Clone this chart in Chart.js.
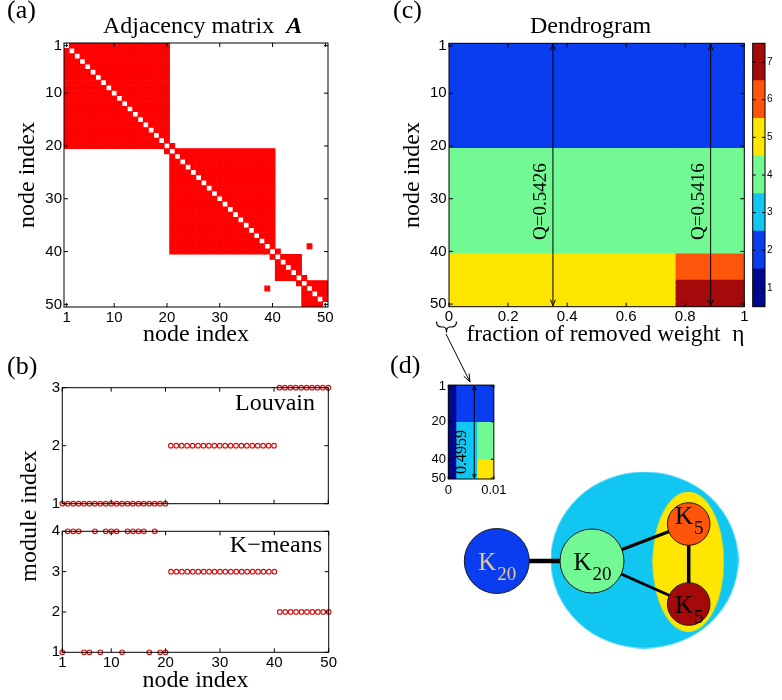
<!DOCTYPE html>
<html>
<head>
<meta charset="utf-8">
<title>Modules of a benchmark network</title>
<script src="https://cdn.jsdelivr.net/npm/chart.js@4.4.1/dist/chart.umd.min.js"></script>
<style>
  html, body { margin: 0; padding: 0; background: #fff; }
  #figure { position: relative; width: 782px; height: 700px; overflow: hidden; }
  #figure canvas { position: absolute; }
  .label { position: absolute; white-space: nowrap; line-height: 1; color: #000;
           font-family: "Liberation Serif", "Times New Roman", serif; }
  #overlay { position: absolute; left: 0; top: 0; pointer-events: none; }
</style>
</head>
<body>
<div id="figure">
  <canvas id="chartAdjacency" width="345" height="350" style="left:0;top:0"></canvas>
  <canvas id="chartLouvain" width="345" height="140" style="left:0;top:375px"></canvas>
  <canvas id="chartKmeans" width="345" height="180" style="left:0;top:520px"></canvas>
  <canvas id="chartDendrogram" width="380" height="350" style="left:380px;top:0"></canvas>
  <canvas id="chartColorbar" width="37" height="350" style="left:745px;top:0"></canvas>
  <canvas id="chartDendroZoom" width="110" height="125" style="left:400px;top:375px"></canvas>
  <canvas id="chartModuleGraph" width="342" height="220" style="left:440px;top:460px"></canvas>

  <div class="label" style="left:7px;top:-3px;font-size:26px">(a)</div>
  <div class="label" style="left:7px;top:353px;font-size:26px">(b)</div>
  <div class="label" style="left:393px;top:-3px;font-size:26px">(c)</div>
  <div class="label" style="left:390px;top:352px;font-size:26px">(d)</div>

  <div class="label" style="left:103px;top:13px;font-size:24px">Adjacency matrix&nbsp;&nbsp;<b><i>A</i></b></div>
  <div class="label" style="left:530px;top:13px;font-size:24px">Dendrogram</div>
  <div class="label" style="right:467px;top:390px;font-size:24px">Louvain</div>
  <div class="label" style="right:460px;top:532px;font-size:24px">K&minus;means</div>
  <div class="label" style="left:27.5px;top:516px;font-size:24px;transform:translate(-50%,-50%) rotate(-90deg)">module index</div>

  <svg id="overlay" width="782" height="700">
    <path d="M436.5,321.5 Q436.5,327 441.5,327 L443.5,327 Q446.5,327 446.5,332.5 Q446.5,327 449.5,327 L451.5,327 Q456.5,327 456.5,321.5"
          fill="none" stroke="#000" stroke-width="1.2"/>
    <line x1="446" y1="334" x2="470" y2="382" stroke="#000" stroke-width="1"/>
    <polyline points="463.7,376.1 470,382 469.1,373.5" fill="none" stroke="#000" stroke-width="1"/>
  </svg>
</div>

<script>
// ---------- data ----------
const nodeIndex = Array.from({ length: 50 }, (_, i) => i + 1);
const axisTicks = [1, 10, 20, 30, 40, 50];

// (a) adjacency matrix: four cliques and the links between them
const cliqueRanges = [[1, 20], [21, 40], [41, 45], [46, 50]];
const bridgeLinks = [[20, 21], [40, 41], [45, 46], [39, 47]];

// (b) module index of every node
const louvainModule = [
  1, 1, 1, 1, 1, 1, 1, 1, 1, 1, 1, 1, 1, 1, 1, 1, 1, 1, 1, 1,
  2, 2, 2, 2, 2, 2, 2, 2, 2, 2, 2, 2, 2, 2, 2, 2, 2, 2, 2, 2,
  3, 3, 3, 3, 3, 3, 3, 3, 3, 3
];
const kmeansModule = [
  1, 4, 4, 4, 1, 1, 4, 1, 4, 4, 4, 1, 4, 4, 4, 4, 1, 4, 1, 1,
  3, 3, 3, 3, 3, 3, 3, 3, 3, 3, 3, 3, 3, 3, 3, 3, 3, 3, 3, 3,
  2, 2, 2, 2, 2, 2, 2, 2, 2, 2
];
const louvainTicks = [1, 2, 3];
const kmeansTicks = [1, 2, 3, 4];

// (c) dendrogram: module of every node on each interval of eta
const etaBreaks = [0, 0.765, 1];
const dendroModules = [
  [2, 2, 2, 2, 2, 2, 2, 2, 2, 2, 2, 2, 2, 2, 2, 2, 2, 2, 2, 2,
   4, 4, 4, 4, 4, 4, 4, 4, 4, 4, 4, 4, 4, 4, 4, 4, 4, 4, 4, 4,
   5, 5, 5, 5, 5, 5, 5, 5, 5, 5],
  [2, 2, 2, 2, 2, 2, 2, 2, 2, 2, 2, 2, 2, 2, 2, 2, 2, 2, 2, 2,
   4, 4, 4, 4, 4, 4, 4, 4, 4, 4, 4, 4, 4, 4, 4, 4, 4, 4, 4, 4,
   6, 6, 6, 6, 6, 7, 7, 7, 7, 7]
];
const etaTicks = [0, 0.2, 0.4, 0.6, 0.8, 1];
const qMarks = [{ eta: 0.352, text: "Q=0.5426" }, { eta: 0.886, text: "Q=0.5416" }];
const colorbarLevels = [1, 2, 3, 4, 5, 6, 7];

// (d) the first steps of the dendrogram
const zoomBreaks = [0, 0.0016, 0.0062, 0.01];
const zoomModules = [
  [1, 1, 1, 1, 1, 1, 1, 1, 1, 1, 1, 1, 1, 1, 1, 1, 1, 1, 1, 1,
   1, 1, 1, 1, 1, 1, 1, 1, 1, 1, 1, 1, 1, 1, 1, 1, 1, 1, 1, 1,
   1, 1, 1, 1, 1, 1, 1, 1, 1, 1],
  [2, 2, 2, 2, 2, 2, 2, 2, 2, 2, 2, 2, 2, 2, 2, 2, 2, 2, 2, 2,
   3, 3, 3, 3, 3, 3, 3, 3, 3, 3, 3, 3, 3, 3, 3, 3, 3, 3, 3, 3,
   3, 3, 3, 3, 3, 3, 3, 3, 3, 3],
  [2, 2, 2, 2, 2, 2, 2, 2, 2, 2, 2, 2, 2, 2, 2, 2, 2, 2, 2, 2,
   4, 4, 4, 4, 4, 4, 4, 4, 4, 4, 4, 4, 4, 4, 4, 4, 4, 4, 4, 4,
   5, 5, 5, 5, 5, 5, 5, 5, 5, 5]
];
const zoomNodeTicks = [1, 20, 40, 50];
const zoomEtaTicks = [0, 0.01];
const zoomMarks = [{ eta: 0.0057, text: "0.4959" }];

// module graph (layout units = pixels of its canvas)
const graphNodes = [
  { x: 56.8, y: 101, level: 2, name: "K", sub: "20" },
  { x: 152, y: 101, level: 4, name: "K", sub: "20" },
  { x: 248.7, y: 64, level: 6, name: "K", sub: "5" },
  { x: 248.7, y: 144, level: 7, name: "K", sub: "5" }
];
const graphEdges = [[0, 1], [1, 2], [1, 3], [2, 3]];
const graphGroups = [{ x: 204.5, y: 100, level: 3 }, { x: 248.3, y: 101.7, level: 5 }];

// ---------- styles ----------
const levelColors = ["#00088f", "#0a3cf0", "#12c6f2", "#72f994", "#ffe600", "#ff550a", "#a50a0a"];
const matrixRed = "#ff0000";
const markerRed = "#d01010";
const nodeRadius = [32.5, 32, 21.3, 21.3];
const edgeWidths = [4.5, 3, 3, 3.5];
const groupRadii = [{ rx: 93.8, ry: 88.3 }, { rx: 35.7, ry: 70 }];

Chart.defaults.font.family = '"Liberation Sans", Arial, sans-serif';
Chart.defaults.color = "#000";

const tickFont = { family: "Liberation Sans", size: 15 };
const serif = size => ({ family: "Liberation Serif", size: size });
const fixWidth = w => s => { s.width = w; };
const fixHeight = h => s => { s.height = h; };
const setTicks = values => s => { s.ticks = values.map(v => ({ value: v })); };
const noLines = { grid: { display: false, drawTicks: false }, border: { display: false } };
const baseOptions = {
  responsive: false,
  animation: false,
  events: [],
  plugins: { legend: { display: false }, tooltip: { enabled: false } }
};

// box around the axes with inward ticks, like the original figure
const axesBox = {
  id: "axesBox",
  afterDatasetsDraw(chart, args, opts) {
    if (!opts.show) return;
    const { ctx, chartArea: a } = chart;
    const len = opts.len || 4;
    ctx.save();
    ctx.strokeStyle = "#000";
    ctx.lineWidth = 1;
    ctx.beginPath();
    const marks = (scale, horizontal) => {
      scale.ticks.forEach((t, i) => {
        if (t.label === "" || t.label == null) return;
        const p = scale.getPixelForTick(i);
        if (horizontal) {
          ctx.moveTo(p, a.bottom); ctx.lineTo(p, a.bottom - len);
          ctx.moveTo(p, a.top); ctx.lineTo(p, a.top + len);
        } else {
          ctx.moveTo(a.left, p); ctx.lineTo(a.left + len, p);
          ctx.moveTo(a.right, p); ctx.lineTo(a.right - len, p);
        }
      });
    };
    if (opts.xTicks !== false) marks(chart.scales.x, true);
    marks(chart.scales.y, false);
    ctx.stroke();
    ctx.strokeRect(a.left, a.top, a.right - a.left, a.bottom - a.top);
    ctx.restore();
  }
};

// double arrows with the modularity values
const modularityMarks = {
  id: "modularityMarks",
  afterDatasetsDraw(chart, args, opts) {
    if (!opts.marks) return;
    const { ctx, chartArea: a } = chart;
    const x = chart.scales.x;
    const h = opts.head;
    ctx.save();
    ctx.strokeStyle = "#000";
    ctx.fillStyle = "#000";
    ctx.lineWidth = 1;
    opts.marks.forEach(m => {
      const px = x.getPixelForValue(m.eta);
      ctx.beginPath();
      ctx.moveTo(px, a.top + 1); ctx.lineTo(px, a.bottom - 1);
      ctx.moveTo(px - h * 0.35, a.top + h); ctx.lineTo(px, a.top + 1); ctx.lineTo(px + h * 0.35, a.top + h);
      ctx.moveTo(px - h * 0.35, a.bottom - h); ctx.lineTo(px, a.bottom - 1); ctx.lineTo(px + h * 0.35, a.bottom - h);
      ctx.stroke();
      ctx.save();
      ctx.translate(px - opts.gap, (a.top + a.bottom) / 2 + opts.dy);
      ctx.rotate(-Math.PI / 2);
      ctx.font = opts.font;
      ctx.textAlign = "center";
      ctx.textBaseline = "middle";
      ctx.fillText(m.text, 0, 0);
      ctx.restore();
    });
    ctx.restore();
  }
};

// K_n labels inside the nodes of the module graph
const nodeText = {
  id: "nodeText",
  afterDatasetsDraw(chart, args, opts) {
    if (!opts.nodes) return;
    const { ctx } = chart;
    const { x, y } = chart.scales;
    ctx.save();
    ctx.textBaseline = "alphabetic";
    opts.nodes.forEach((n, i) => {
      const px = x.getPixelForValue(n.x);
      const py = y.getPixelForValue(n.y) + opts.dy[i];
      ctx.font = opts.size + 'px "Liberation Serif"';
      const wK = ctx.measureText(n.name).width;
      ctx.font = opts.subSize + 'px "Liberation Serif"';
      const wS = ctx.measureText(n.sub).width;
      const left = px - (wK + wS) / 2;
      ctx.fillStyle = opts.colors[i];
      ctx.font = opts.size + 'px "Liberation Serif"';
      ctx.fillText(n.name, left, py + 9);
      ctx.font = opts.subSize + 'px "Liberation Serif"';
      ctx.fillText(n.sub, left + wK + 1, py + 19);
    });
    ctx.restore();
  }
};

Chart.register(axesBox, modularityMarks, nodeText);

// ---------- (a) adjacency matrix ----------
const adjacencyCells = [];
cliqueRanges.forEach(([a, b]) => {
  for (let i = a; i <= b; i++) {
    for (let j = a; j <= b; j++) {
      if (i !== j) adjacencyCells.push({ x: j, y: i });
    }
  }
});
bridgeLinks.forEach(([i, j]) => {
  adjacencyCells.push({ x: j, y: i }, { x: i, y: j });
});
const cellSize = chart => Math.abs(chart.scales.x.getPixelForValue(1) - chart.scales.x.getPixelForValue(0));

new Chart(document.getElementById("chartAdjacency"), {
  type: "scatter",
  data: {
    datasets: [{
      data: adjacencyCells,
      pointStyle: "rect",
      pointRadius: c => (cellSize(c.chart) - 0.6) / Math.SQRT2,
      pointBackgroundColor: matrixRed,
      pointBorderColor: matrixRed,
      pointBorderWidth: 1.2
    }]
  },
  options: {
    ...baseOptions,
    layout: { padding: { left: 0, top: 43, right: 17, bottom: 0 }, autoPadding: false },
    scales: {
      x: {
        type: "linear", min: 0.5, max: 50.5, ...noLines,
        afterBuildTicks: setTicks(axisTicks), afterFit: fixHeight(43),
        ticks: { font: tickFont, padding: 2, autoSkip: false, maxRotation: 0, minRotation: 0 },
        title: { display: true, text: "node index", font: serif(24), padding: { top: 0, bottom: 0.6 } }
      },
      y: {
        type: "linear", min: 0.5, max: 50.5, reverse: true, ...noLines,
        afterBuildTicks: setTicks(axisTicks), afterFit: fixWidth(64),
        ticks: { font: tickFont, padding: 2, autoSkip: false },
        title: { display: true, text: "node index", font: serif(24), padding: { top: 13.1, bottom: 0 } }
      }
    },
    plugins: { ...baseOptions.plugins, axesBox: { show: true, len: 4 } }
  }
});

// ---------- (b) module index: Louvain and K-means ----------
const moduleMarkers = {
  pointStyle: "circle",
  pointRadius: 2.3,
  pointBorderWidth: 1.1,
  pointBorderColor: markerRed,
  pointBackgroundColor: "rgba(0,0,0,0)",
  clip: false
};

new Chart(document.getElementById("chartLouvain"), {
  type: "scatter",
  data: {
    datasets: [{ data: nodeIndex.map((n, i) => ({ x: n, y: louvainModule[i] })), ...moduleMarkers }]
  },
  options: {
    ...baseOptions,
    layout: { padding: { left: 0, top: 12.7, right: 16.7, bottom: 0 }, autoPadding: false },
    scales: {
      x: {
        type: "linear", min: 1, max: 50, ...noLines,
        afterBuildTicks: setTicks(axisTicks), afterFit: fixHeight(6.7),
        ticks: { display: false, autoSkip: false }
      },
      y: {
        type: "linear", min: 1, max: 3, ...noLines,
        afterBuildTicks: setTicks(louvainTicks), afterFit: fixWidth(62.3),
        ticks: { font: tickFont, padding: 2.3 }
      }
    },
    plugins: { ...baseOptions.plugins, axesBox: { show: true, len: 4 } }
  }
});

new Chart(document.getElementById("chartKmeans"), {
  type: "scatter",
  data: {
    datasets: [{ data: nodeIndex.map((n, i) => ({ x: n, y: kmeansModule[i] })), ...moduleMarkers }]
  },
  options: {
    ...baseOptions,
    layout: { padding: { left: 0, top: 11.3, right: 16.3, bottom: 0 }, autoPadding: false },
    scales: {
      x: {
        type: "linear", min: 1, max: 50, ...noLines,
        afterBuildTicks: setTicks(axisTicks), afterFit: fixHeight(47.7),
        ticks: { font: tickFont, padding: 2, autoSkip: false, maxRotation: 0, minRotation: 0 },
        title: { display: true, text: "node index", font: serif(24), padding: { top: 0, bottom: 4.6 } }
      },
      y: {
        type: "linear", min: 1, max: 4, ...noLines,
        afterBuildTicks: setTicks(kmeansTicks), afterFit: fixWidth(62.3),
        ticks: { font: tickFont, padding: 2.3 }
      }
    },
    plugins: { ...baseOptions.plugins, axesBox: { show: true, len: 4 } }
  }
});

// ---------- (c) dendrogram ----------
const bandDatasets = (breaks, modules) => modules.map((levels, k) => ({
  data: levels.map(() => [breaks[k], breaks[k + 1]]),
  backgroundColor: levels.map(l => levelColors[l - 1]),
  borderWidth: 0,
  inflateAmount: 0.6,
  barPercentage: 1,
  categoryPercentage: 1,
  grouped: false
}));
const nodeLabel = shown => (value, index) => shown.includes(nodeIndex[index]) ? String(nodeIndex[index]) : "";

new Chart(document.getElementById("chartDendrogram"), {
  type: "bar",
  data: { labels: nodeIndex.map(String), datasets: bandDatasets(etaBreaks, dendroModules) },
  options: {
    ...baseOptions,
    indexAxis: "y",
    layout: { padding: { left: 0, top: 43.3, right: 15.7, bottom: 0 } },
    scales: {
      x: {
        type: "linear", min: 0, max: 1, ...noLines,
        afterBuildTicks: setTicks(etaTicks), afterFit: fixHeight(43.3),
        ticks: { font: tickFont, padding: 1.5, autoSkip: false, maxRotation: 0, minRotation: 0, callback: v => String(v) },
        title: { display: true, text: "   fraction of removed weight  \u03b7", font: serif(24), padding: { top: 0, bottom: 0.6 } }
      },
      y: {
        type: "category", ...noLines, afterFit: fixWidth(69),
        ticks: { font: tickFont, padding: 2.3, autoSkip: false, callback: nodeLabel(axisTicks) },
        title: { display: true, text: "node index", font: serif(24), padding: { top: 18.1, bottom: 0 } }
      }
    },
    plugins: {
      ...baseOptions.plugins,
      axesBox: { show: true, len: 4 },
      modularityMarks: { marks: qMarks, font: '19px "Liberation Serif"', gap: 11.5, dy: 26.7, head: 7 }
    }
  }
});

// colour bar of the module labels
new Chart(document.getElementById("chartColorbar"), {
  type: "bar",
  data: {
    labels: ["module"],
    datasets: colorbarLevels.map(l => ({
      data: [[l - 0.5, l + 0.5]],
      backgroundColor: levelColors[l - 1],
      borderWidth: 0,
      inflateAmount: 0.6,
      barPercentage: 1,
      categoryPercentage: 1,
      grouped: false
    }))
  },
  options: {
    ...baseOptions,
    layout: { padding: { left: 7.7, top: 43.3, right: 0, bottom: 43.3 } },
    scales: {
      x: { display: false },
      y: {
        type: "linear", position: "right", min: 0.5, max: 7.5, ...noLines,
        afterBuildTicks: setTicks(colorbarLevels), afterFit: fixWidth(17),
        ticks: { font: { family: "Liberation Sans", size: 10 }, padding: 2 }
      }
    },
    plugins: { ...baseOptions.plugins, axesBox: { show: true, len: 3, xTicks: false } }
  }
});

// ---------- (d) zoom on the first steps ----------
new Chart(document.getElementById("chartDendroZoom"), {
  type: "bar",
  data: { labels: nodeIndex.map(String), datasets: bandDatasets(zoomBreaks, zoomModules) },
  options: {
    ...baseOptions,
    indexAxis: "y",
    layout: { padding: { left: 0, top: 9.3, right: 7.7, bottom: 0 } },
    scales: {
      x: {
        type: "linear", min: 0, max: 0.01, ...noLines,
        afterBuildTicks: setTicks(zoomEtaTicks), afterFit: fixHeight(21),
        ticks: { font: { family: "Liberation Sans", size: 13 }, padding: 3.5, autoSkip: false, maxRotation: 0, minRotation: 0, callback: v => String(v) }
      },
      y: {
        type: "category", ...noLines, afterFit: fixWidth(48.3),
        ticks: { font: { family: "Liberation Sans", size: 13 }, padding: 2.3, autoSkip: false, callback: nodeLabel(zoomNodeTicks) }
      }
    },
    plugins: {
      ...baseOptions.plugins,
      axesBox: { show: true, len: 3 },
      modularityMarks: { marks: zoomMarks, font: '16px "Liberation Serif"', gap: 12, dy: 20, head: 5 }
    }
  }
});

// ---------- module graph ----------
const ellipseImage = (rx, ry, color) => {
  const c = document.createElement("canvas");
  c.width = Math.ceil(rx * 2);
  c.height = Math.ceil(ry * 2);
  const g = c.getContext("2d");
  g.fillStyle = color;
  g.beginPath();
  g.ellipse(c.width / 2, c.height / 2, rx, ry, 0, 0, Math.PI * 2);
  g.fill();
  return c;
};
const groupImages = graphGroups.map((g, i) => ellipseImage(groupRadii[i].rx, groupRadii[i].ry, levelColors[g.level - 1]));

new Chart(document.getElementById("chartModuleGraph"), {
  type: "scatter",
  data: {
    datasets: [
      {
        data: graphNodes.map(n => ({ x: n.x, y: n.y })),
        pointRadius: nodeRadius,
        pointBackgroundColor: graphNodes.map(n => levelColors[n.level - 1]),
        pointBorderColor: "#1a1a1a",
        pointBorderWidth: 1,
        order: 0
      },
      ...graphEdges.map(([a, b], i) => ({
        data: [{ x: graphNodes[a].x, y: graphNodes[a].y }, { x: graphNodes[b].x, y: graphNodes[b].y }],
        showLine: true,
        borderColor: "#000",
        borderWidth: edgeWidths[i],
        pointRadius: 0,
        order: 1
      })),
      {
        data: graphGroups.map(g => ({ x: g.x, y: g.y })),
        pointStyle: groupImages,
        pointRadius: 1,
        order: 2
      }
    ]
  },
  options: {
    ...baseOptions,
    layout: { padding: 0, autoPadding: false },
    scales: {
      x: { type: "linear", min: 0, max: 342, display: false },
      y: { type: "linear", min: 0, max: 220, reverse: true, display: false }
    },
    plugins: {
      ...baseOptions.plugins,
      nodeText: {
        nodes: graphNodes,
        size: 25,
        subSize: 19,
        dy: [0, 0, -9, 0],
        colors: ["#e8cb8e", "#000", "#000", "#000"]
      }
    }
  }
});
</script>
</body>
</html>
